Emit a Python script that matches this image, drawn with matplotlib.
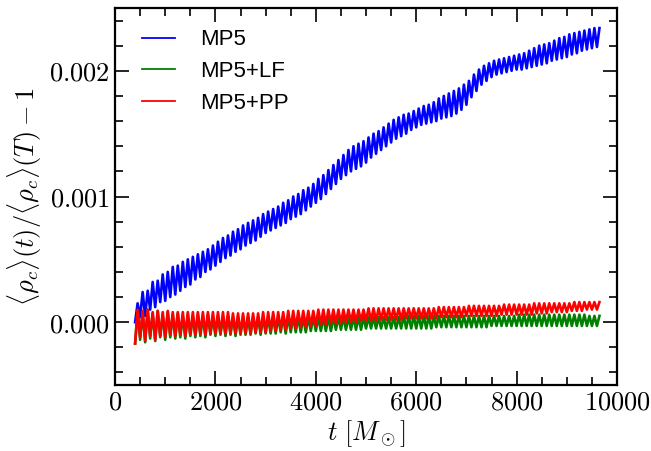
import numpy as np
import matplotlib
matplotlib.use("Agg")
import matplotlib.pyplot as plt
from matplotlib.ticker import MultipleLocator, FuncFormatter

plt.rcParams["mathtext.fontset"] = "cm"

# === Data (values in units of 1e-5), one trough/peak pair per 100 M_sun ===
t_start = 400.0
t_step = 100.0

blue_lo = [0, 4, 5, 10, 12, 16, 17, 20, 22, 25,
           28, 30, 34, 36, 40, 42, 45, 48, 51, 53,
           56, 58, 61, 63, 65, 68, 71, 73, 75, 77,
           79, 82, 84, 86, 89, 92, 95, 98, 102, 106,
           110, 114, 117, 120, 122, 124, 127, 131, 134, 137,
           140, 143, 146, 148, 150, 153, 155, 157, 158, 159,
           160, 162, 163, 164, 166, 169, 173, 179, 184, 189,
           192, 195, 197, 198, 199, 200, 201, 201, 202, 203,
           204, 205, 206, 208, 209, 210, 211, 213, 214, 216,
           217, 218, 219]
blue_hi = [15, 24, 25, 32, 33, 38, 40, 44, 45, 48,
           50, 52, 54, 56, 58, 61, 64, 67, 69, 72,
           74, 77, 79, 81, 83, 86, 88, 90, 92, 95,
           97, 100, 102, 105, 107, 110, 114, 117, 121, 125,
           129, 133, 137, 140, 142, 144, 147, 150, 152, 155,
           158, 161, 163, 165, 166, 168, 170, 172, 173, 175,
           178, 180, 182, 184, 186, 189, 192, 197, 201, 204,
           206, 208, 209, 210, 211, 212, 213, 214, 216, 218,
           220, 221, 222, 224, 226, 227, 229, 230, 231, 232,
           233, 234, 234]

green_lo = [-17, -14, -16, -13, -15, -12, -14, -12, -13, -12,
            -13, -11, -12, -11, -12, -10, -11, -10, -11, -10,
            -11, -10, -10, -10, -9, -10, -9, -9, -9, -8,
            -9, -8, -8, -8, -8, -7, -7, -7, -7, -7,
            -6, -6, -6, -6, -6, -6, -5, -5, -5, -5,
            -5, -5, -5, -5, -5, -5, -5, -5, -5, -5,
            -4, -4, -4, -4, -4, -4, -4, -4, -4, -4,
            -4, -3, -3, -3, -3, -3, -3, -3, -3, -3,
            -3, -3, -3, -3, -3, -3, -3, -3, -3, -3,
            -3, -3, -3]
green_hi = [9, 8, 10, 7, 9, 6, 8, 6, 7, 5,
            6, 5, 6, 5, 6, 4, 5, 4, 5, 4,
            4, 4, 4, 4, 4, 4, 4, 4, 4, 4,
            4, 4, 4, 4, 4, 4, 4, 4, 4, 4,
            4, 4, 4, 4, 4, 4, 4, 4, 4, 4,
            4, 4, 4, 5, 5, 5, 5, 5, 5, 5,
            5, 5, 5, 5, 5, 5, 5, 5, 5, 5,
            5, 5, 5, 5, 5, 5, 6, 6, 6, 6,
            6, 6, 6, 6, 6, 6, 6, 6, 6, 6,
            5, 5, 5]

red_lo = [-17, -12, -15, -11, -14, -11, -12, -10, -11, -10,
          -11, -10, -10, -9, -10, -9, -9, -9, -9, -9,
          -9, -9, -9, -9, -8, -8, -8, -7, -7, -6,
          -6, -5, -5, -4, -4, -3, -3, -2, -2, -1,
          -1, -1, 0, 0, 0, 1, 1, 1, 1, 2,
          2, 2, 2, 2, 3, 3, 3, 3, 3, 3,
          3, 4, 4, 4, 4, 4, 5, 5, 5, 5,
          5, 5, 5, 6, 6, 6, 6, 6, 6, 6,
          7, 7, 7, 8, 8, 8, 8, 9, 9, 9,
          10, 10, 10]
red_hi = [10, 9, 10, 8, 9, 8, 9, 8, 8, 8,
          8, 8, 8, 8, 8, 8, 8, 8, 8, 7,
          7, 7, 7, 7, 7, 8, 8, 8, 8, 8,
          9, 9, 9, 9, 9, 9, 10, 10, 10, 10,
          10, 10, 10, 10, 10, 10, 11, 11, 11, 11,
          11, 11, 11, 11, 11, 11, 11, 11, 11, 11,
          12, 12, 12, 12, 12, 12, 13, 13, 13, 13,
          13, 13, 13, 14, 14, 14, 14, 14, 14, 15,
          15, 15, 15, 15, 15, 15, 15, 16, 16, 16,
          16, 16, 16]

labels = ["MP5", "MP5+LF", "MP5+PP"]
colors = ["#0000ff", "#008000", "#ff0000"]


def zigzag(lo, hi):
    # interleave troughs and peaks into one oscillating series
    n = len(lo)
    t = np.empty(2 * n)
    y = np.empty(2 * n)
    t[0::2] = t_start + t_step * np.arange(n)
    t[1::2] = t[0::2] + t_step / 2
    y[0::2] = np.array(lo) * 1e-5
    y[1::2] = np.array(hi) * 1e-5
    return t, y


fig = plt.figure(figsize=(6.51, 4.51), dpi=100)
ax = fig.add_axes([0.1767, 0.1463, 0.7711, 0.836])

series = [(blue_lo, blue_hi), (green_lo, green_hi), (red_lo, red_hi)]
for (lo, hi), lab, col in zip(series, labels, colors):
    t, y = zigzag(lo, hi)
    ax.plot(t, y, color=col, lw=1.9, label=lab)

ax.set_xlim(0, 10000)
ax.set_ylim(-0.0005, 0.0025)

ax.xaxis.set_major_locator(MultipleLocator(2000))
ax.xaxis.set_minor_locator(MultipleLocator(500))
ax.yaxis.set_major_locator(MultipleLocator(0.001))
ax.yaxis.set_minor_locator(MultipleLocator(0.0002))
ax.xaxis.set_major_formatter(FuncFormatter(lambda v, p: r"$%d$" % round(v)))
ax.yaxis.set_major_formatter(FuncFormatter(lambda v, p: r"$%.3f$" % (v + 0.0)))

ax.tick_params(which="both", direction="in", top=True, right=True, width=1.2, labelsize=19)
ax.tick_params(which="major", length=10)
ax.tick_params(which="minor", length=6)
for s in ax.spines.values():
    s.set_linewidth(1.6)

ax.set_xlabel(r"$t\ [M_\odot]$", fontsize=19, labelpad=2)
ax.set_ylabel(r"$\langle\rho_c\rangle(t)/\langle\rho_c\rangle(T)-1$", fontsize=19, labelpad=4)

leg = ax.legend(loc="upper left", frameon=False, handlelength=1.5, handletextpad=1.13,
                labelspacing=0.48, prop={"family": "Liberation Sans", "size": 16},
                bbox_to_anchor=(0.036, 0.967), borderaxespad=0.0)
for line in leg.get_lines():
    line.set_linewidth(1.3)

fig.savefig("out.png", dpi=100)
